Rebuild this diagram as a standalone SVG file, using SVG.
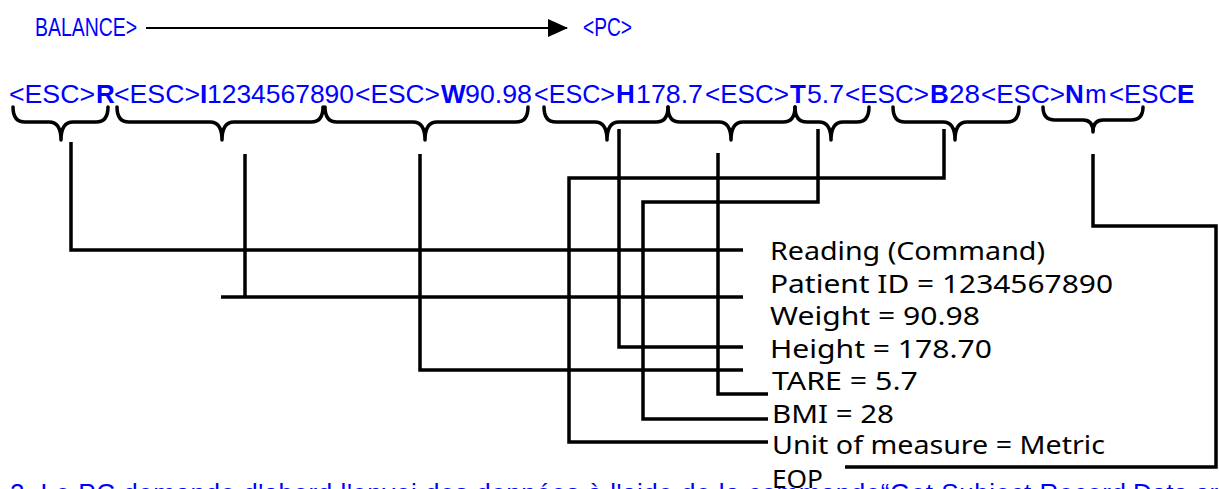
<svg xmlns="http://www.w3.org/2000/svg" width="1219" height="489" viewBox="0 0 1219 489">
<style>
.blue{font-family:"Liberation Sans",Arial,sans-serif;font-size:26px;fill:#0000ff}
.b{font-weight:bold}
.lbl{font-family:"Noto Sans","DejaVu Sans",sans-serif;font-size:26px;fill:#000}
.brace{fill:none;stroke:#000;stroke-width:3.5;stroke-linejoin:round;stroke-linecap:round}
.conn{fill:none;stroke:#000;stroke-width:3.5;stroke-linejoin:miter}
</style>
<defs>
<marker id="ah" markerUnits="userSpaceOnUse" markerWidth="20" markerHeight="18" refX="19" refY="9" orient="auto">
<path d="M0,0 L20,9 L0,18 Z" fill="#000"/>
</marker>
</defs>
<rect width="1219" height="489" fill="#fff"/>

<g id="balance"><text class="blue" x="35" y="36" textLength="102" lengthAdjust="spacingAndGlyphs">BALANCE&gt;</text></g>
<g id="pc"><text class="blue" x="583" y="36" textLength="49" lengthAdjust="spacingAndGlyphs">&lt;PC&gt;</text></g>

<g id="esc-line" class="blue">
<text x="9" y="103" textLength="86" lengthAdjust="spacingAndGlyphs">&lt;ESC&gt;</text>
<text x="96" y="103" class="b">R</text>
<text x="114" y="103" textLength="86" lengthAdjust="spacingAndGlyphs">&lt;ESC&gt;</text>
<text x="200" y="103" class="b">I</text>
<text x="207" y="103" textLength="147" lengthAdjust="spacingAndGlyphs">1234567890</text>
<text x="355" y="103" textLength="85" lengthAdjust="spacingAndGlyphs">&lt;ESC&gt;</text>
<text x="441" y="103" class="b">W</text>
<text x="465" y="103" textLength="67" lengthAdjust="spacingAndGlyphs">90.98</text>
<text x="534" y="103" textLength="81" lengthAdjust="spacingAndGlyphs">&lt;ESC&gt;</text>
<text x="616" y="103" class="b">H</text>
<text x="636" y="103" textLength="67" lengthAdjust="spacingAndGlyphs">178.7</text>
<text x="705" y="103" textLength="84" lengthAdjust="spacingAndGlyphs">&lt;ESC&gt;</text>
<text x="790" y="103" class="b">T</text>
<text x="807" y="103" textLength="37" lengthAdjust="spacingAndGlyphs">5.7</text>
<text x="845" y="103" textLength="84" lengthAdjust="spacingAndGlyphs">&lt;ESC&gt;</text>
<text x="930" y="103" class="b">B</text>
<text x="949" y="103" textLength="31" lengthAdjust="spacingAndGlyphs">28</text>
<text x="981" y="103" textLength="84" lengthAdjust="spacingAndGlyphs">&lt;ESC&gt;</text>
<text x="1065" y="103" class="b">N</text>
<text x="1085" y="103">m</text>
<text x="1109" y="103" textLength="68" lengthAdjust="spacingAndGlyphs">&lt;ESC</text>
<text x="1177" y="103" class="b">E</text>
</g>

<g id="braces">
<path class="brace" d="M13,107 Q13,122 25,122 L49,122 Q61,122 61,140 Q61,122 73,122 L96,122 Q108,122 108,107"/>
<path class="brace" d="M117,107 Q117,122 129,122 L210,122 Q222,122 222,140 Q222,122 234,122 L311,122 Q323,122 323,107"/>
<path class="brace" d="M325,107 Q325,122 337,122 L413,122 Q425,122 425,140 Q425,122 437,122 L516,122 Q528,122 528,107"/>
<path class="brace" d="M544,107 Q544,122 556,122 L595,122 Q607,122 607,140 Q607,122 619,122 L656,122 Q668,122 668,107"/>
<path class="brace" d="M668,107 Q668,122 680,122 L719,122 Q731,122 731,140 Q731,122 743,122 L783,122 Q795,122 795,107"/>
<path class="brace" d="M795,107 Q795,122 807,122 L819,122 Q831,122 831,140 Q831,122 843,122 L857,122 Q869,122 869,107"/>
<path class="brace" d="M893,107 Q893,122 905,122 L943,122 Q955,122 955,140 Q955,122 967,122 L1007,122 Q1019,122 1019,107"/>
<path class="brace" d="M1043,107 Q1043,120 1055,120 L1083,120 Q1093,120 1093,132 Q1093,120 1103,120 L1131,120 Q1143,120 1143,107"/>
</g>

<g id="connectors" class="conn">
<path d="M146,28 H567" stroke-width="2" marker-end="url(#ah)"/>
<path d="M71,142 V250 H743"/>
<path d="M245,154 V297"/>
<path d="M221,297 H743"/>
<path d="M420,154 V370 H743"/>
<path d="M619,129 V347 H743"/>
<path d="M718,153 V394 H768"/>
<path d="M818,129 V202 H643 V419 H768"/>
<path d="M944,129 V178 H569 V442 H768"/>
<path d="M1093,154 V226 H1216 V467 H845"/>
</g>

<g id="labels">
<text class="lbl" x="770" y="260" textLength="275" lengthAdjust="spacingAndGlyphs">Reading (Command)</text>
<text class="lbl" x="770" y="293" textLength="343" lengthAdjust="spacingAndGlyphs">Patient ID = 1234567890</text>
<text class="lbl" x="770" y="325" textLength="210" lengthAdjust="spacingAndGlyphs">Weight = 90.98</text>
<text class="lbl" x="770" y="358" textLength="222" lengthAdjust="spacingAndGlyphs">Height = 178.70</text>
<text class="lbl" x="772" y="390" textLength="146" lengthAdjust="spacingAndGlyphs">TARE = 5.7</text>
<text class="lbl" x="772" y="423" textLength="122" lengthAdjust="spacingAndGlyphs">BMI = 28</text>
<text class="lbl" x="772" y="454" textLength="333" lengthAdjust="spacingAndGlyphs">Unit of measure = Metric</text>
<text class="lbl" x="772" y="488" textLength="51" lengthAdjust="spacingAndGlyphs">EOP</text>
</g>

<g id="caption" class="blue">
<text x="10" y="502" textLength="1116" lengthAdjust="spacing">2. Le PC demande d'abord l'envoi des données à l'aide de la commande“Get Subject Record</text>
<text x="1133" y="502">Data ar</text>
</g>
</svg>
